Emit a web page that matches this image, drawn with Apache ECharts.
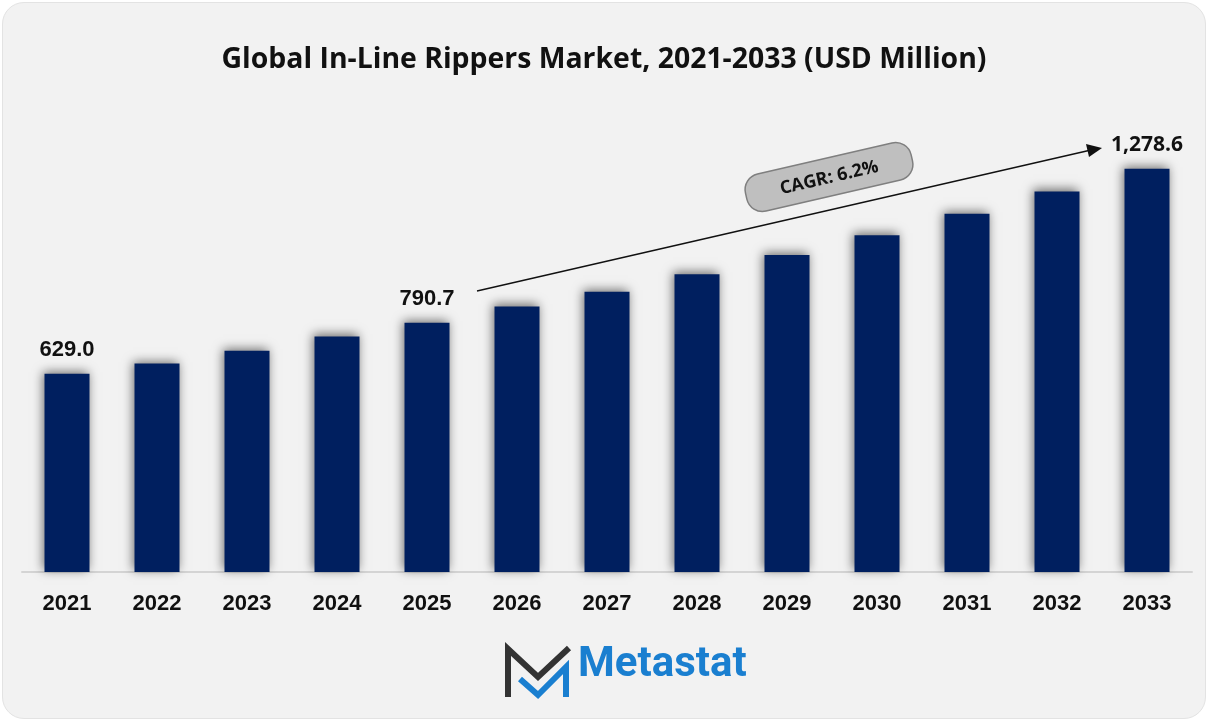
<!DOCTYPE html>
<html>
<head>
<meta charset="utf-8">
<script src="https://cdn.jsdelivr.net/npm/echarts@6/dist/echarts.min.js"></script>
<style>
  html, body { margin: 0; padding: 0; background: #ffffff; }
  #card {
    position: absolute; left: 2px; top: 2px; width: 1202px; height: 715px;
    background: #f2f2f2; border: 1px solid #e3e3e3; border-radius: 22px; overflow: hidden;
  }
  #chart { width: 1202px; height: 715px; }
</style>
</head>
<body>
<div id="card"><div id="chart"></div></div>
<script>
// --- données du graphique --- //
const years = ['2021', '2022', '2023', '2024', '2025', '2026', '2027', '2028', '2029', '2030', '2031', '2032', '2033'];
const marketValues = [629.0, 661, 702, 747, 790.7, 842, 889, 944, 1005, 1068, 1136, 1207, 1278.6];
const labelledYears = ['2021', '2025', '2033'];
const cagrText = 'CAGR: 6.2%';

const chartDom = document.getElementById('chart');
const chart = echarts.init(chartDom);

const barData = marketValues.map((v, i) => {
  const item = { value: v };
  if (labelledYears.includes(years[i])) {
    item.label = {
      show: true,
      position: 'top',
      distance: 13,
      formatter: p => p.value.toLocaleString('en-US', { minimumFractionDigits: 1, maximumFractionDigits: 1 }),
      fontFamily: years[i] === '2033' ? 'Open Sans' : 'Liberation Sans',
      fontWeight: 'bold',
      fontSize: years[i] === '2033' ? 21 : 22,
      color: '#111'
    };
  }
  return item;
});

let option = {
  animation: false,
  title: {
    text: 'Global In-Line Rippers Market, 2021-2033 (USD Million)',
    left: 'center',
    top: 38,
    textStyle: { fontFamily: 'Open Sans', fontWeight: 'bold', fontSize: 28.4, color: '#111' }
  },
  grid: { left: 19, right: 13, top: 96, bottom: 146 },
  xAxis: {
    type: 'category',
    data: years,
    axisLine: { lineStyle: { color: '#d4d4d4', width: 2 } },
    axisTick: { show: false },
    axisLabel: {
      margin: 21,
      fontFamily: 'Liberation Sans',
      fontWeight: 'bold',
      fontSize: 22,
      color: '#111'
    }
  },
  yAxis: {
    type: 'value',
    min: 0,
    max: 1500,
    show: false,
    splitLine: { show: false }
  },
  series: [
    {
      type: 'bar',
      barWidth: 45,
      data: barData,
      itemStyle: {
        color: '#001f5f',
        shadowColor: 'rgba(0,0,0,0.55)',
        shadowBlur: 10,
        shadowOffsetX: -2,
        shadowOffsetY: -2
      }
    }
  ],
  graphic: [
    // flèche CAGR
    {
      type: 'line',
      shape: { x1: 474, y1: 288, x2: 1088, y2: 147 },
      style: { stroke: '#111', lineWidth: 1.3 }
    },
    {
      type: 'polygon',
      shape: { points: [[1099, 145], [1083, 141], [1086, 154]] },
      style: { fill: '#111' }
    },
    // pastille CAGR
    {
      type: 'group',
      x: 826,
      y: 174,
      rotation: 13 * Math.PI / 180,
      children: [
        {
          type: 'rect',
          shape: { x: -85, y: -19, width: 170, height: 38, r: 16 },
          style: { fill: '#bfbfbf', stroke: '#7f7f7f', lineWidth: 1.5 }
        },
        {
          type: 'text',
          style: {
            text: cagrText,
            x: 0, y: 1,
            align: 'center', verticalAlign: 'middle',
            fontFamily: 'Open Sans', fontWeight: 'bold', fontSize: 18, fill: '#111'
          }
        }
      ]
    },
    // logo Metastat
    {
      type: 'polyline',
      shape: { points: [[505, 694], [505, 646], [535, 674], [566, 645]] },
      style: { stroke: '#333333', lineWidth: 6, fill: null }
    },
    {
      type: 'polyline',
      shape: { points: [[517, 676], [535, 692], [563, 664], [563, 694]] },
      style: { stroke: '#1a7fd0', lineWidth: 6, fill: null }
    },
    {
      type: 'text',
      left: 575,
      top: 641,
      style: {
        text: 'Metastat',
        fontFamily: 'Roboto', fontWeight: 'bold', fontSize: 42, fill: '#1a7fd0'
      }
    }
  ]
};

chart.setOption(option);
</script>
</body>
</html>
